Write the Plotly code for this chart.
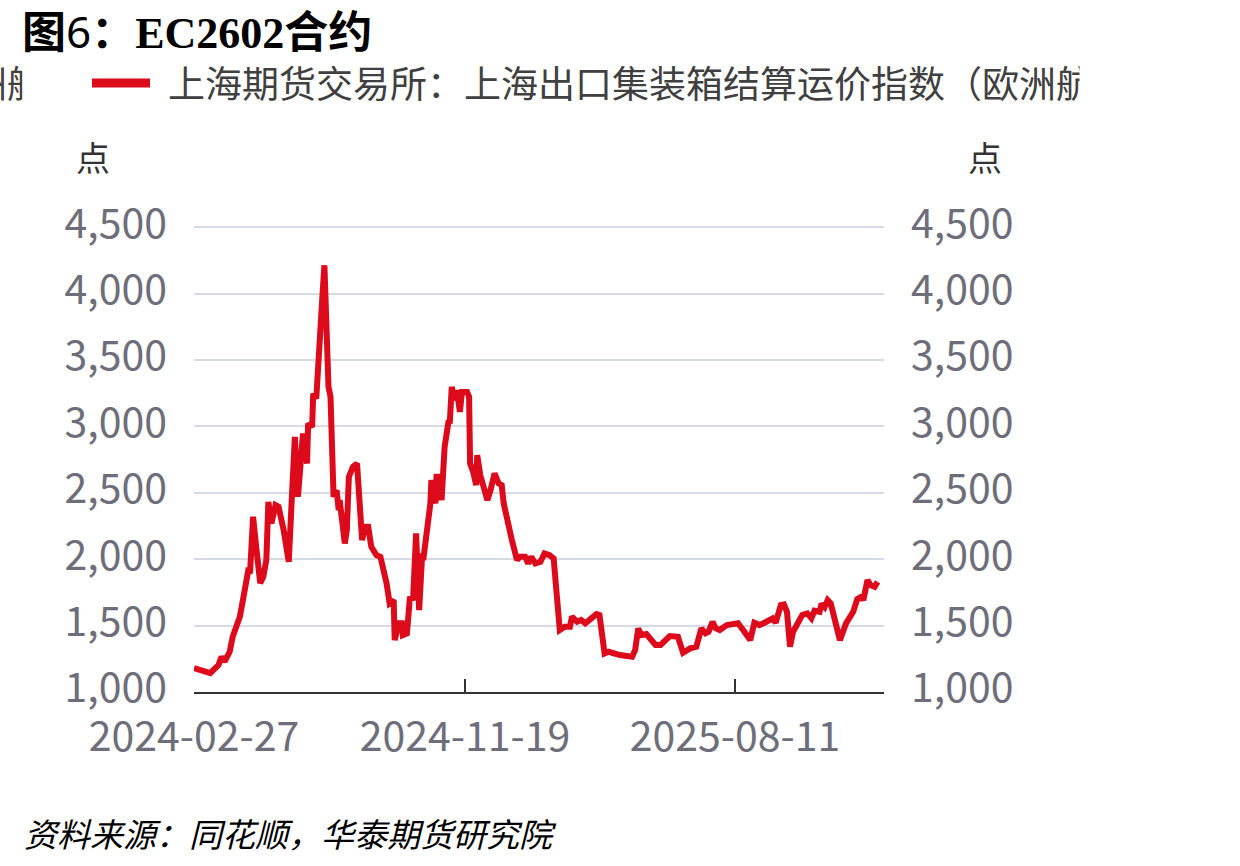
import plotly.graph_objects as go

# ---------------- data ----------------
dates = [
    "2024-02-27", "2024-03-14", "2024-03-22", "2024-03-25", "2024-03-28", "2024-04-02", "2024-04-05",
    "2024-04-12", "2024-04-15", "2024-04-19", "2024-04-20", "2024-04-22", "2024-04-25", "2024-04-28",
    "2024-05-02", "2024-05-05", "2024-05-08", "2024-05-10", "2024-05-13", "2024-05-17", "2024-05-20",
    "2024-05-25", "2024-05-30", "2024-06-02", "2024-06-05", "2024-06-08", "2024-06-13", "2024-06-17",
    "2024-06-18", "2024-06-22", "2024-06-23", "2024-06-26", "2024-06-30", "2024-07-02", "2024-07-04",
    "2024-07-06", "2024-07-08", "2024-07-10", "2024-07-13", "2024-07-16", "2024-07-18", "2024-07-19",
    "2024-07-23", "2024-07-24", "2024-07-26", "2024-07-28", "2024-08-01", "2024-08-05", "2024-08-10",
    "2024-08-13", "2024-08-16", "2024-08-19", "2024-08-24", "2024-08-28", "2024-09-03", "2024-09-06",
    "2024-09-10", "2024-09-11", "2024-09-15", "2024-09-18", "2024-09-19", "2024-09-23", "2024-09-26",
    "2024-09-29", "2024-10-02", "2024-10-05", "2024-10-08", "2024-10-09", "2024-10-16", "2024-10-17",
    "2024-10-21", "2024-10-22", "2024-10-25", "2024-10-27", "2024-10-30", "2024-11-03", "2024-11-04",
    "2024-11-06", "2024-11-09", "2024-11-11", "2024-11-14", "2024-11-16", "2024-11-21", "2024-11-23",
    "2024-11-24", "2024-11-27", "2024-11-30", "2024-12-01", "2024-12-04", "2024-12-07", "2024-12-11",
    "2024-12-14", "2024-12-18", "2024-12-22", "2024-12-25", "2024-12-27", "2024-12-31", "2025-01-04",
    "2025-01-09", "2025-01-12", "2025-01-17", "2025-01-20", "2025-01-23", "2025-01-27", "2025-02-01",
    "2025-02-05", "2025-02-10", "2025-02-14", "2025-02-20", "2025-02-25", "2025-03-02", "2025-03-04",
    "2025-03-09", "2025-03-13", "2025-03-17", "2025-03-22", "2025-03-28", "2025-03-31", "2025-04-05",
    "2025-04-09", "2025-04-20", "2025-05-02", "2025-05-05", "2025-05-08", "2025-05-11", "2025-05-16",
    "2025-05-25", "2025-05-30", "2025-06-08", "2025-06-16", "2025-06-21", "2025-06-28", "2025-07-04",
    "2025-07-09", "2025-07-13", "2025-07-16", "2025-07-20", "2025-07-23", "2025-07-27", "2025-08-03",
    "2025-08-11", "2025-08-14", "2025-08-19", "2025-08-26", "2025-08-30", "2025-09-04", "2025-09-09",
    "2025-09-14", "2025-09-17", "2025-09-20", "2025-09-25", "2025-09-28", "2025-10-01", "2025-10-04",
    "2025-10-07", "2025-10-16", "2025-10-21", "2025-10-25", "2025-10-28", "2025-11-02", "2025-11-04",
    "2025-11-07", "2025-11-10", "2025-11-13", "2025-11-17", "2025-11-22", "2025-11-25", "2025-11-28",
    "2025-12-05", "2025-12-09", "2025-12-13", "2025-12-15", "2025-12-19", "2025-12-22", "2025-12-26",
    "2025-12-29",
]
index_values = [
    1180, 1143, 1203, 1266, 1228, 1303, 1416,
    1567, 1692, 1843, 1905, 1895, 2320, 2094,
    1820, 1868, 1994, 2432, 2270, 2408, 2395,
    2219, 1981, 2458, 2922, 2470, 2947, 2721,
    3022, 2997, 3248, 3210, 3825, 3975, 4214,
    3700, 3298, 3223, 2470, 2520, 2370, 2445,
    2169, 2119, 2219, 2621, 2696, 2721, 2144,
    2244, 2244, 2094, 2031, 2018, 1818, 1668,
    1692, 1391, 1517, 1517, 1429, 1442, 1718,
    1692, 2194, 1617, 2044, 1994, 2420, 2596,
    2420, 2621, 2621, 2445, 2846, 3047, 3022,
    3298, 3198, 3273, 3110, 3260, 3260, 3223,
    2721, 2658, 2558, 2784, 2633, 2558, 2445,
    2520, 2646, 2571, 2558, 2420, 2270, 2144,
    1994, 2018, 2018, 1968, 2018, 1968, 1981,
    2044, 2031, 2006, 1467, 1492, 1492, 1567,
    1529, 1542, 1517, 1555, 1587, 1580, 1290,
    1303, 1278, 1266, 1316, 1479, 1429, 1437,
    1354, 1354, 1421, 1416, 1296, 1329, 1341,
    1479, 1442, 1454, 1529, 1480, 1467, 1504,
    1522, 1517, 1467, 1391, 1522, 1504, 1522,
    1546, 1555, 1522, 1655, 1660, 1604, 1341,
    1454, 1580, 1592, 1555, 1612, 1604, 1665,
    1640, 1692, 1667, 1542, 1390, 1454, 1517,
    1604, 1700, 1717, 1692, 1843, 1805, 1793,
    1830,
]
x_tick_vals = ["2024-02-27", "2024-11-19", "2025-08-11", "2026-01-04 06:00"]
x_tick_text = ["2024-02-27", "2024-11-19", "2025-08-11", ""]
y_tick_vals = [1000, 1500, 2000, 2500, 3000, 3500, 4000, 4500]
x_range = ["2024-02-27", "2026-01-04 06:00"]
y_range = [1000, 4510]

series_name = "上海期货交易所：上海出口集装箱结算运价指数（欧洲航线）"
source_text = "资料来源：同花顺，华泰期货研究院"
unit_text = "点"

# ---------------- layout helpers ----------------
W, H = 1240, 866
L, R, T, B = 194, 884, 226, 692
RED = "#dc0a1a"
CJK = "Noto Sans CJK SC"


def px(x):
    return (x - L) / (R - L)


def py(y):
    return (B - y) / (B - T)


fig = go.Figure()
fig.add_trace(go.Scatter(x=dates, y=index_values, mode="lines", name=series_name,
                         line=dict(color=RED, width=6), yaxis="y", showlegend=False))
fig.add_trace(go.Scatter(x=dates, y=index_values, mode="lines", name=series_name,
                         line=dict(color="rgba(0,0,0,0)", width=0), yaxis="y2",
                         showlegend=False, hoverinfo="skip"))

tickfont = dict(family=CJK, size=41, color="#6e6e7a")

fig.update_layout(
    width=W, height=H,
    margin=dict(l=L, r=W - R, t=T, b=H - B, pad=0),
    paper_bgcolor="white", plot_bgcolor="white",
    showlegend=False,
    xaxis=dict(type="date", range=x_range, tickvals=x_tick_vals, ticktext=x_tick_text,
               showgrid=False, zeroline=False, showline=True, linecolor="#333333", linewidth=2,
               ticks="inside", ticklen=13, tickwidth=2, tickcolor="#333333",
               tickfont=tickfont, ticklabelstandoff=8),
    yaxis=dict(range=y_range, tickvals=y_tick_vals, tickformat=",d", showgrid=True,
               gridcolor="#d6dae4", gridwidth=2, zeroline=False, showline=False, ticks="",
               tickfont=tickfont, ticklabelstandoff=26, ticklabelshift=-4),
    yaxis2=dict(range=y_range, tickvals=y_tick_vals, tickformat=",d", overlaying="y", side="right",
                showgrid=False, zeroline=False, showline=False, ticks="",
                tickfont=tickfont, ticklabelstandoff=26, ticklabelshift=-4),
)

annotations = [
    # title
    dict(text="<b>图</b><span style=\"font-family:'Noto Sans';font-weight:normal\">6</span>"
              "<b>：<span style=\"font-family:'Liberation Serif'\">EC2602</span>合约</b>",
         x=px(20), y=py(29), xanchor="left", yanchor="middle",
         font=dict(family=CJK, size=44, color="#000000")),
    # legend text (clipped like the original)
    dict(text="洲航", x=px(46), y=py(82), xanchor="right", yanchor="middle",
         font=dict(family=CJK, size=37, color="#404040")),
    dict(text=" ", x=px(22), y=py(82), xanchor="left", yanchor="middle", width=64, height=50,
         bgcolor="white", borderpad=0),
    dict(text=series_name, x=px(166), y=py(82), xanchor="left", yanchor="middle",
         font=dict(family=CJK, size=37, color="#404040")),
    dict(text=" ", x=px(1079), y=py(82), xanchor="left", yanchor="middle", width=400, height=56,
         bgcolor="white", borderpad=0),
    # units
    dict(text=unit_text, x=px(93), y=py(156), xanchor="center", yanchor="middle",
         font=dict(family=CJK, size=34, color="#333333")),
    dict(text=unit_text, x=px(985), y=py(156), xanchor="center", yanchor="middle",
         font=dict(family=CJK, size=34, color="#333333")),
    # source
    dict(text=source_text, x=px(22), y=py(833), xanchor="left", yanchor="middle",
         font=dict(family=CJK, size=33, color="#000000", style="italic")),
]
for a in annotations:
    a.setdefault("xref", "paper")
    a.setdefault("yref", "paper")
    a.setdefault("showarrow", False)
fig.update_layout(annotations=annotations)

fig.add_shape(type="line", xref="paper", yref="paper", x0=px(92), x1=px(150), y0=py(83), y1=py(83),
              line=dict(color=RED, width=9))

fig.write_html("out.html")
